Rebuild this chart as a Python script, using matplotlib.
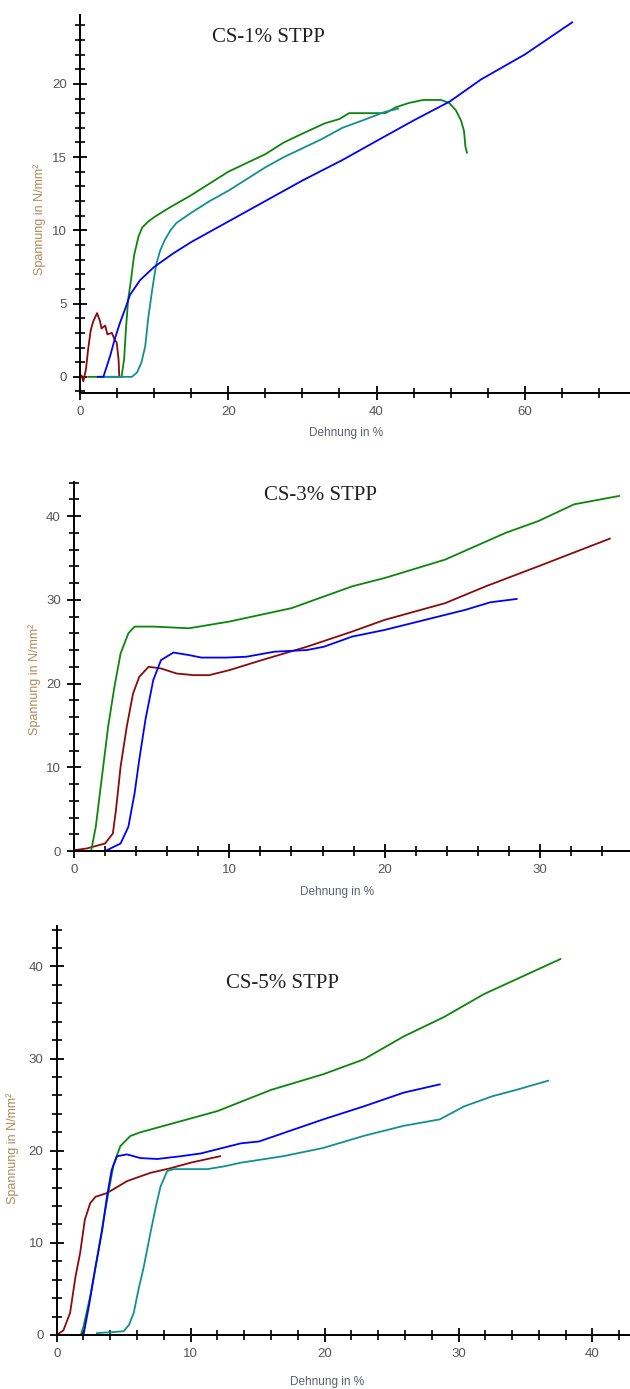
import matplotlib.pyplot as plt
from matplotlib.ticker import MultipleLocator

plt.rcParams['font.family'] = ['Liberation Sans', 'DejaVu Sans']

# Zugversuche: Spannung-Dehnung je STPP-Gehalt
GREEN = '#0a870a'
TEAL = '#119090'
BLUE = '#0000ff'
RED = '#8b0a0a'

# --- CS-1% STPP ---
p1_red_x = [0, 0.2, 0.45, 0.8, 1.1, 1.45, 1.8, 2.3, 2.7, 2.9, 3.4, 3.7, 4.3, 4.7, 4.95, 5.2, 5.3]
p1_red_y = [0, 0.1, -0.3, 0.5, 1.9, 3.2, 3.8, 4.35, 3.8, 3.3, 3.5, 2.9, 3.0, 2.5, 2.35, 1.2, 0]
p1_green_x = [1.1, 5.6, 5.95, 6.2, 6.5, 6.9, 7.3, 7.9, 8.4, 9.2, 10.0, 11.9, 15, 17.5, 20, 22.5,
              25, 27.5, 30, 33, 35, 36.3, 38, 41.2, 42.6, 44.4, 46.3, 48.7, 49.8, 50.7, 51.4,
              51.8, 52.0, 52.2]
p1_green_y = [0, 0, 1.2, 3.3, 5.3, 6.7, 8.3, 9.6, 10.2, 10.6, 10.9, 11.5, 12.4, 13.2, 14.0, 14.6,
              15.2, 16.0, 16.6, 17.3, 17.6, 18.0, 18.0, 18.0, 18.4, 18.7, 18.9, 18.9, 18.7, 18.2,
              17.5, 16.8, 15.7, 15.3]
p1_teal_x = [3.2, 7.0, 7.7, 8.3, 8.8, 9.2, 9.7, 10.0, 10.3, 10.8, 11.4, 12.2, 13.0, 15, 17.5, 20,
             22.5, 25, 27.5, 30, 32.5, 35.4, 38.1, 41.2, 42.9]
p1_teal_y = [0, 0, 0.3, 1.0, 2.1, 4.0, 5.8, 6.8, 7.7, 8.6, 9.3, 10.0, 10.5, 11.2, 12.0, 12.7,
             13.5, 14.3, 15.0, 15.6, 16.2, 17.0, 17.5, 18.1, 18.3]
p1_blue_x = [2.4, 3.15, 4.05, 4.7, 5.4, 6.1, 6.75, 8.1, 10.0, 12.5, 15, 20, 25, 30, 35.4, 40,
             45, 49.9, 54.1, 60, 66.4]
p1_blue_y = [0, 0, 1.4, 2.6, 3.7, 4.65, 5.6, 6.6, 7.5, 8.4, 9.2, 10.6, 12.0, 13.4, 14.8, 16.1,
             17.5, 18.8, 20.3, 22.0, 24.2]

# --- CS-3% STPP ---
p2_green_x = [0, 1.1, 1.4, 1.8, 2.2, 2.6, 3.0, 3.5, 3.9, 5.1, 7.4, 10.0, 14.0, 17.9, 20.0, 23.9,
              27.8, 29.9, 32.2, 35.1]
p2_green_y = [0, 0, 2.9, 8.9, 14.9, 19.6, 23.6, 26.0, 26.8, 26.8, 26.6, 27.4, 29.0, 31.6, 32.6,
              34.8, 38.0, 39.4, 41.4, 42.4]
p2_red_x = [0, 0.8, 2.0, 2.5, 2.7, 3.0, 3.4, 3.8, 4.2, 4.8, 5.6, 6.6, 7.7, 8.7, 10.0, 12.1, 15.0,
            17.9, 20.0, 23.9, 26.5, 29.9, 34.5]
p2_red_y = [0.1, 0.3, 0.9, 2.1, 4.9, 10.1, 14.9, 18.8, 20.8, 22.0, 21.8, 21.2, 21.0, 21.0, 21.6,
            22.8, 24.4, 26.2, 27.6, 29.6, 31.6, 34.0, 37.3]
p2_blue_x = [2.0, 3.0, 3.5, 3.9, 4.2, 4.6, 5.1, 5.6, 6.4, 7.4, 8.2, 9.8, 11.1, 12.9, 15.0, 16.1,
             17.9, 20.0, 22.6, 25.2, 26.8, 28.5]
p2_blue_y = [0, 0.9, 2.9, 6.9, 10.9, 15.7, 20.4, 22.8, 23.7, 23.4, 23.1, 23.1, 23.2, 23.8, 24.0,
             24.4, 25.6, 26.4, 27.6, 28.8, 29.7, 30.1]

# --- CS-5% STPP ---
p3_red_x = [0, 0.5, 1.0, 1.4, 1.75, 2.1, 2.5, 2.9, 3.75, 5.25, 7.0, 8.5, 10.0, 12.2]
p3_red_y = [0, 0.5, 2.4, 6.3, 8.9, 12.5, 14.3, 15.0, 15.4, 16.7, 17.6, 18.1, 18.7, 19.4]
p3_green_x = [1.0, 1.8, 2.0, 2.5, 3.0, 3.5, 3.9, 4.25, 4.75, 5.5, 6.25, 7.5, 9.75, 12.0, 16.0,
              19.9, 22.9, 25.9, 28.9, 31.9, 34.9, 37.6]
p3_green_y = [0, 0, 0.9, 4.2, 8.2, 12.5, 15.8, 18.5, 20.5, 21.6, 22.0, 22.5, 23.4, 24.3, 26.6,
              28.3, 29.9, 32.4, 34.5, 37.0, 39.0, 40.8]
p3_teal_x = [3.0, 5.0, 5.4, 5.75, 6.1, 6.5, 7.0, 7.4, 7.75, 8.25, 8.75, 11.25, 12.5, 13.75, 16.9,
             19.9, 22.9, 25.9, 28.6, 30.4, 32.5, 34.3, 36.7]
p3_teal_y = [0.2, 0.4, 1.1, 2.4, 4.9, 7.4, 11.1, 13.9, 16.1, 17.8, 18.0, 18.0, 18.3, 18.7, 19.4,
             20.3, 21.6, 22.7, 23.4, 24.8, 25.9, 26.6, 27.6]
p3_blue_x = [2.0, 2.4, 2.9, 3.4, 3.75, 4.1, 4.5, 5.25, 6.25, 7.5, 9.25, 10.75, 13.75, 15.1, 16.9,
             19.9, 22.9, 25.9, 28.6]
p3_blue_y = [0, 3.1, 7.4, 11.4, 15.0, 17.9, 19.4, 19.6, 19.2, 19.1, 19.4, 19.7, 20.8, 21.0, 21.9,
             23.4, 24.8, 26.3, 27.2]

panels = [
    dict(title='CS-1% STPP', rect=[0.127, 0.7171, 0.873, 0.2721], xlim=(0, 74.2), ylim=(-1.1, 24.7),
         xmaj=20, xmin=5, ymaj=5, ymin=1, title_pos=(268, 38),
         ylab=(-0.062, 0.46), xlab=(0.483, -0.09),
         curves=[(p1_red_x, p1_red_y, RED), (p1_green_x, p1_green_y, GREEN),
                 (p1_teal_x, p1_teal_y, TEAL), (p1_blue_x, p1_blue_y, BLUE)]),
    dict(title='CS-3% STPP', rect=[0.1175, 0.3873, 0.8825, 0.2659], xlim=(0, 35.8), ylim=(0, 44.1),
         xmaj=10, xmin=2, ymaj=10, ymin=2, title_pos=(320, 495),
         ylab=(-0.06, 0.466), xlab=(0.473, -0.094),
         curves=[(p2_red_x, p2_red_y, RED), (p2_green_x, p2_green_y, GREEN),
                 (p2_blue_x, p2_blue_y, BLUE)]),
    dict(title='CS-5% STPP', rect=[0.09, 0.0389, 0.91, 0.2945], xlim=(0, 42.8), ylim=(0, 44.4),
         xmaj=10, xmin=2, ymaj=10, ymin=2, title_pos=(282, 983),
         ylab=(-0.066, 0.455), xlab=(0.472, -0.1),
         curves=[(p3_red_x, p3_red_y, RED), (p3_green_x, p3_green_y, GREEN),
                 (p3_teal_x, p3_teal_y, TEAL), (p3_blue_x, p3_blue_y, BLUE)]),
]

fig = plt.figure(figsize=(6.3, 13.89), dpi=100)

for p in panels:
    ax = fig.add_axes(p['rect'])
    for xs, ys, col in p['curves']:
        ax.plot(xs, ys, color=col, lw=1.3, clip_on=False)
    ax.set_xlim(*p['xlim'])
    ax.set_ylim(*p['ylim'])
    for side in ('top', 'right'):
        ax.spines[side].set_visible(False)
    for side in ('left', 'bottom'):
        ax.spines[side].set_linewidth(1.4)
    ax.xaxis.set_major_locator(MultipleLocator(p['xmaj']))
    ax.xaxis.set_minor_locator(MultipleLocator(p['xmin']))
    ax.yaxis.set_major_locator(MultipleLocator(p['ymaj']))
    ax.yaxis.set_minor_locator(MultipleLocator(p['ymin']))
    ax.tick_params(which='major', direction='inout', length=10, width=1.3,
                   labelsize=9.5, labelcolor='#555555', pad=4.5)
    ax.tick_params(which='minor', direction='inout', length=6.8, width=1.2)
    ax.set_xlabel('Dehnung in %', fontsize=8.5, color='#5a6070')
    ax.set_ylabel('Spannung in N/mm²', fontsize=9, color='#b08a5a')
    ax.xaxis.set_label_coords(*p['xlab'])
    ax.yaxis.set_label_coords(*p['ylab'])
    tx, ty = p['title_pos']
    fig.text(tx / 630, 1 - ty / 1389, p['title'], ha='center', va='center',
             fontsize=15, family='Liberation Serif', color='#222222')

fig.savefig('out.png', dpi=100)
